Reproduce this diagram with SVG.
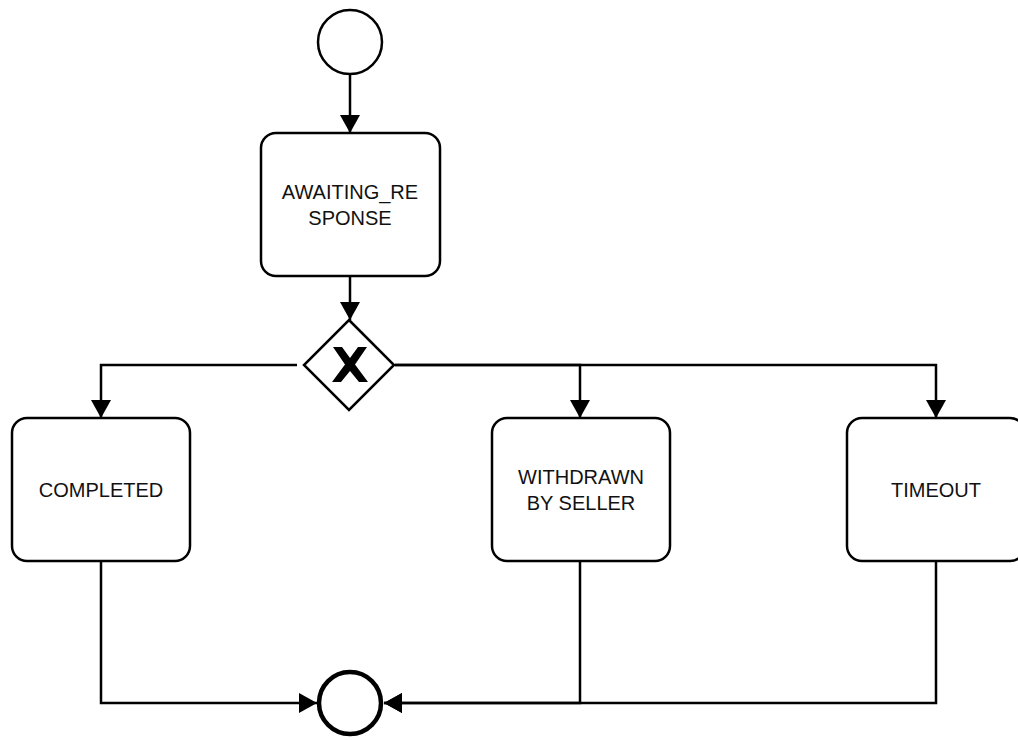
<svg xmlns="http://www.w3.org/2000/svg" width="1018" height="740" viewBox="0 0 1018 740">
  <style>
    .task { fill: #ffffff; stroke: #000000; stroke-width: 2.5; }
    .lbl { font-family: "Liberation Sans", Arial, sans-serif; font-size: 20px; fill: #111111; text-anchor: middle; }
    .edge { fill: none; stroke: #000000; stroke-width: 2.5; }
  </style>
  <defs>
    <marker id="arrow" markerUnits="userSpaceOnUse" markerWidth="18" markerHeight="20" refX="18" refY="10" orient="auto">
      <path d="M0,0 L18,10 L0,20 Z" fill="#000000"/>
    </marker>
  </defs>
  <rect width="1018" height="740" fill="#ffffff"/>

  <g id="connectors">
    <path class="edge" d="M350,75 L350,133" marker-end="url(#arrow)"/>
    <path class="edge" d="M350,276 L350,320" marker-end="url(#arrow)"/>
    <path class="edge" d="M297,365 L101,365 L101,418" marker-end="url(#arrow)"/>
    <path class="edge" d="M395,365 L580,365 L580,418" marker-end="url(#arrow)"/>
    <path class="edge" d="M395,365 L936,365 L936,418" marker-end="url(#arrow)"/>
    <path class="edge" d="M101,561 L101,703 L317,703" marker-end="url(#arrow)"/>
    <path class="edge" d="M580,561 L580,703 L384,703" marker-end="url(#arrow)"/>
    <path class="edge" d="M936,561 L936,703 L384,703" marker-end="url(#arrow)"/>
  </g>

  <g id="start">
    <circle cx="350" cy="42" r="32" fill="#ffffff" stroke="#000000" stroke-width="2.5"/>
  </g>

  <g id="awaiting_response">
    <rect class="task" x="261" y="133" width="179" height="143" rx="15" ry="15"/>
    <text class="lbl" x="350" y="199">AWAITING_RE</text>
    <text class="lbl" x="350" y="225">SPONSE</text>
  </g>

  <g id="gateway">
    <polygon points="349,320 394,365 349,410 304,365" fill="#ffffff" stroke="#000000" stroke-width="2.5"/>
    <polygon points="333,347 342,347 350,358 358,347 367,347 355,364.5 368,382 359,382 350,371 341,382 332,382 345,364.5" fill="#000000"/>
  </g>

  <g id="completed">
    <rect class="task" x="12" y="418" width="178" height="143" rx="15" ry="15"/>
    <text class="lbl" x="101" y="497">COMPLETED</text>
  </g>

  <g id="withdrawn">
    <rect class="task" x="492" y="418" width="178" height="143" rx="15" ry="15"/>
    <text class="lbl" x="581" y="484">WITHDRAWN</text>
    <text class="lbl" x="581" y="510">BY SELLER</text>
  </g>

  <g id="timeout">
    <rect class="task" x="847" y="418" width="178" height="143" rx="15" ry="15"/>
    <text class="lbl" x="936" y="497">TIMEOUT</text>
  </g>

  <g id="end">
    <circle cx="350" cy="703" r="31" fill="#ffffff" stroke="#000000" stroke-width="4.5"/>
  </g>
</svg>
